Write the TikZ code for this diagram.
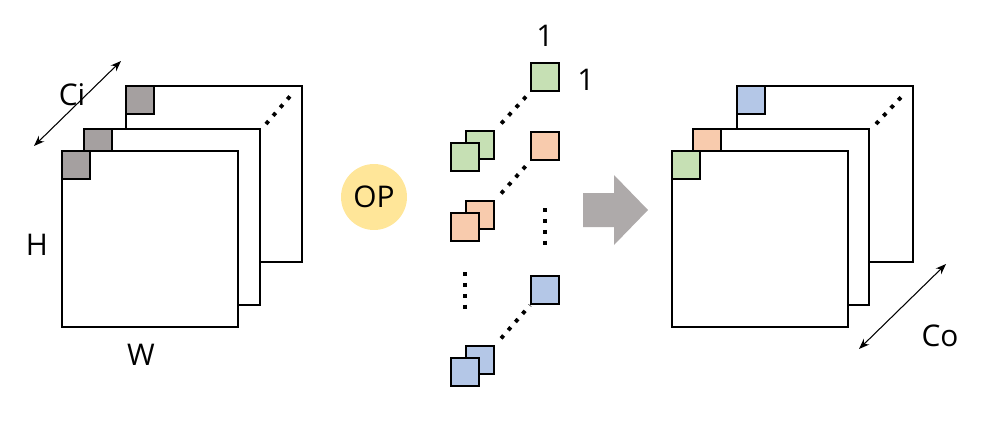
\documentclass[tikz,border=0pt]{standalone}
\usepackage{fontspec}
\setmainfont{Open Sans}
\usetikzlibrary{arrows.meta, positioning}
\definecolor{cgray}{RGB}{165,160,160}
\definecolor{cgreen}{RGB}{198,224,180}
\definecolor{corange}{RGB}{248,203,173}
\definecolor{cblue}{RGB}{180,199,231}
\definecolor{cyellow}{RGB}{255,230,153}
\tikzset{
plane/.style={draw, line width=1.3pt, fill=white, minimum size=3.52cm, inner sep=0pt, anchor=north west}, % feature map
cell/.style={draw, line width=1.3pt, minimum size=0.56cm, inner sep=0pt, anchor=north west}, % one element
lbl/.style={font=\fontsize{17}{20}\selectfont},
dots/.style={line width=2.2pt, dash pattern=on 2.2pt off 4pt},
dim/.style={{Stealth[length=6pt]}-{Stealth[length=6pt]}, semithick},
}
\begin{document}
\begin{tikzpicture}[x=0.02cm, y=-0.02cm]
\useasboundingbox (0,0) rectangle (991,423);
% input feature map
\node[plane] (ib) at (125,85) {};
\node[cell, fill=cgray] (gb) at (125,85) {};
\node[plane] (im) at (83,128) {};
\node[cell, fill=cgray] (gm) at (83,128) {};
\node[plane] (if) at (61,150) {};
\node[cell, fill=cgray] (gf) at (61,150) {};
\coordinate (d1) at (266,124); \coordinate (d2) at (292,94);
\draw[dots] (d1) -- (d2);
\coordinate (ci1) at (34,146); \coordinate (ci2) at (121,61);
\draw[dim] (ci1) -- (ci2);
\node[lbl] (ci) at (72,95) {Ci};
\node[lbl] (h) at (37,245) {H};
\node[lbl] (w) at (141,355) {W};
% operator
\node[circle, fill=cyellow, minimum size=1.32cm, lbl] (op) at (374,197) {OP};
% kernels
\node[cell, fill=cgreen] (k1) at (530,62) {};
\node[cell, fill=corange] (k2) at (530,131) {};
\node[cell, fill=cblue] (k3) at (530,275) {};
\node[lbl] (one1) at (545,36) {1};
\node[lbl] (one2) at (586,80) {1};
\node[cell, fill=cgreen] (p1b) at (465,130) {};
\node[cell, fill=cgreen] (p1f) at (450,142) {};
\node[cell, fill=corange] (p2b) at (465,200) {};
\node[cell, fill=corange] (p2f) at (450,212) {};
\node[cell, fill=cblue] (p3b) at (465,345) {};
\node[cell, fill=cblue] (p3f) at (450,357) {};
\draw[dots, shorten <=5pt] (p1b.north east) -- (k1.south west);
\draw[dots, shorten <=5pt] (p2b.north east) -- (k2.south west);
\draw[dots, shorten <=5pt] (p3b.north east) -- (k3.south west);
\coordinate (v1) at (545,208); \coordinate (v2) at (545,248);
\draw[dots] (v1) -- (v2);
\coordinate (v3) at (465,272); \coordinate (v4) at (465,312);
\draw[dots] (v3) -- (v4);
% arrow
\fill[cgray!90] (583,193) -- (614,193) -- (614,175) -- (648,210) -- (614,245) -- (614,227) -- (583,227) -- cycle;
% output feature map
\node[plane] (ob) at (736,85) {};
\node[cell, fill=cblue] (cb) at (736,85) {};
\node[plane] (om) at (692,128) {};
\node[cell, fill=corange] (cm) at (692,128) {};
\node[plane] (of) at (671,150) {};
\node[cell, fill=cgreen] (cf) at (671,150) {};
\coordinate (d3) at (876,124); \coordinate (d4) at (904,94);
\draw[dots] (d3) -- (d4);
\coordinate (co1) at (859,349); \coordinate (co2) at (946,264);
\draw[dim] (co1) -- (co2);
\node[lbl] (co) at (940,336) {Co};
\end{tikzpicture}
\end{document}
